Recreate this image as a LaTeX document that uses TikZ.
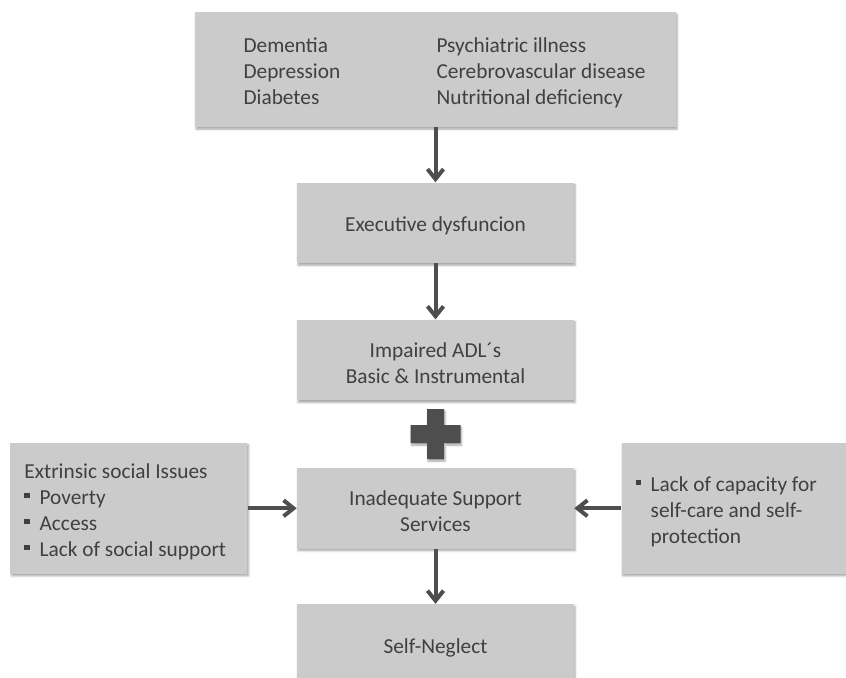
\documentclass[tikz,border=0pt]{standalone}
\usepackage{fontspec}
\setmainfont{Carlito}
\usetikzlibrary{arrows.meta,positioning,calc,shadows.blur}

\definecolor{boxgray}{RGB}{203,203,203}
\definecolor{textgray}{RGB}{64,64,64}
\definecolor{arrowgray}{RGB}{78,78,78}
\newcommand{\sqb}{\raisebox{0.28em}{\rule{0.24em}{0.24em}}\hspace{0.47em}}
\newcommand{\topstrut}{\rule{0pt}{16pt}}

\begin{document}
\begin{tikzpicture}[
  x=0.75pt, y=-0.75pt,
  every node/.style={font=\fontsize{16pt}{19.5pt}\selectfont, text=textgray},
  softshadow/.style={blur shadow={shadow xshift=0.8pt, shadow yshift=-1.6pt, shadow blur radius=1.5pt, shadow opacity=35}},
  box/.style={rectangle, fill=boxgray, inner sep=0pt, minimum width=207.75pt, minimum height=60.5pt, align=center, softshadow},
  sidebox/.style={box, minimum width=177.75pt, minimum height=98.25pt, text width=156.75pt, inner xsep=10.5pt, align=flush left},
  arr/.style={draw=arrowgray, line width=3pt, -{Straight Barb[length=7.5pt,width=12pt]}},
  plusmark/.style={fill=arrowgray, softshadow}
]
  \useasboundingbox (0,0) rectangle (846,678);

  \node[box, minimum width=360.75pt, minimum height=86.25pt] (causes) at (435.5,69.5)
    {\raisebox{-2.5pt}[\height][\depth]{\begin{tabular}{@{\hspace{13.5pt}}p{144.75pt}@{}l@{}}
      Dementia & Psychiatric illness\\
      Depression & Cerebrovascular disease\\
      Diabetes & Nutritional deficiency
    \end{tabular}}};
  \node[box, below=41.25pt of causes] (exec) {\topstrut Executive dysfuncion};
  \node[box, below=42pt of exec] (adl) {\topstrut Impaired ADL´s\\Basic \& Instrumental};
  \node[box, below=50.25pt of adl] (support) {\topstrut Inadequate Support\\Services};
  \node[box, below=41.25pt of support] (neglect) {\topstrut Self-Neglect};
  \node[sidebox, left=36.75pt of support] (social)
    {\topstrut Extrinsic social Issues\\\sqb Poverty\\\sqb Access\\\sqb Lack of social support};
  \node[sidebox, right=35.25pt of support] (capacity)
    {\topstrut\sqb Lack of capacity for\\\hphantom{\sqb}self-care and self-\\\hphantom{\sqb}protection};

  \coordinate (plus) at ($(adl.south)!0.5!(support.north)$);
  \fill[plusmark] ([shift={(-25,-9)}]plus) rectangle ([shift={(25,9)}]plus)
    ([shift={(-8.5,-25)}]plus) rectangle ([shift={(8.5,25)}]plus);

  \draw[arr] (causes) -- (exec);
  \draw[arr] (exec) -- (adl);
  \draw[arr] (support) -- (neglect);
  \draw[arr] (social) -- (support);
  \draw[arr] (capacity) -- (support);
\end{tikzpicture}
\end{document}
